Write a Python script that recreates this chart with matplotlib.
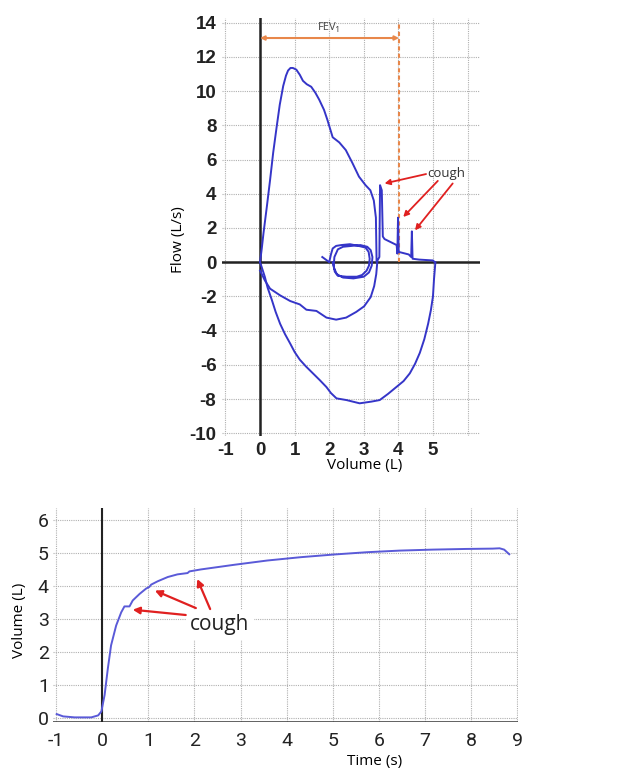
import matplotlib.pyplot as plt

plt.rcParams['axes.unicode_minus'] = False

# flow-volume loop (top): forced expiration with coughs
exp_vol = [0.0, 0.05, 0.1, 0.2, 0.29, 0.38, 0.48, 0.57, 0.67, 0.75, 0.81, 0.88, 0.95, 1.05,
           1.15, 1.24, 1.35, 1.48, 1.6, 1.71, 1.85, 1.95, 2.1, 2.29, 2.48, 2.67, 2.86, 3.05,
           3.19, 3.29, 3.35, 3.37, 3.45, 3.47, 3.52, 3.55, 3.6, 3.95, 3.97, 3.99, 4.01, 4.3,
           4.37, 4.39, 4.41, 4.6, 5.0, 5.05]
exp_flow = [0.0, 0.8, 1.7, 3.3, 4.8, 6.4, 7.9, 9.2, 10.3, 10.9, 11.2, 11.35, 11.35, 11.25,
            10.95, 10.6, 10.4, 10.25, 9.9, 9.5, 8.9, 8.3, 7.3, 7.0, 6.55, 5.8, 5.0, 4.5,
            4.2, 3.6, 2.6, 0.0, 0.3, 4.5, 4.2, 1.5, 1.35, 1.0, 0.5, 2.6, 0.6, 0.45,
            0.3, 1.8, 0.2, 0.15, 0.1, 0.0]

# forced inspiration (big lower loop)
insp_vol = [5.07, 5.03, 5.0, 4.94, 4.86, 4.75, 4.62, 4.48, 4.33, 4.15, 3.94, 3.7, 3.46, 3.22,
            2.88, 2.5, 2.21, 2.05, 1.92, 1.73, 1.53, 1.33, 1.15, 1.0, 0.87, 0.72, 0.58, 0.45,
            0.34, 0.22, 0.14, 0.05, 0.0]
insp_flow = [0.0, -1.0, -2.0, -2.8, -3.6, -4.5, -5.3, -5.95, -6.5, -6.95, -7.3, -7.7, -8.06,
             -8.15, -8.25, -8.06, -7.96, -7.65, -7.3, -6.9, -6.5, -6.1, -5.7, -5.25, -4.75,
             -4.2, -3.6, -2.9, -2.2, -1.5, -0.87, -0.3, 0.0]

# second (smaller) inspiration
insp2_vol = [0.0, 0.14, 0.29, 0.58, 0.87, 1.15, 1.34, 1.63, 1.92, 2.2, 2.49, 2.78, 3.01,
             3.2, 3.3, 3.36, 3.39]
insp2_flow = [-0.49, -1.07, -1.55, -1.94, -2.27, -2.47, -2.78, -2.85, -3.24, -3.36, -3.24,
              -2.91, -2.58, -2.04, -1.4, -0.7, 0.0]

# tidal breathing loops
tidal_vol = [1.8, 1.9, 2.0, 2.05, 2.1, 2.2, 2.35, 2.6, 2.85, 3.05, 3.14, 3.17, 3.15, 3.08,
             2.95, 2.8, 2.5, 2.25, 2.16, 2.13, 2.15, 2.25, 2.4, 2.65, 2.9, 3.1, 3.2, 3.25,
             3.23, 3.15, 3.0, 2.7, 2.4, 2.22, 2.14, 2.1]
tidal_flow = [0.3, 0.15, 0.0, 0.45, 0.8, 0.95, 1.0, 1.05, 0.95, 0.85, 0.6, 0.2, -0.2, -0.5,
              -0.75, -0.85, -0.85, -0.8, -0.55, -0.2, 0.3, 0.75, 0.9, 0.95, 1.0, 0.9, 0.7,
              0.3, -0.2, -0.6, -0.85, -0.95, -0.9, -0.7, -0.35, 0.0]

fev1 = 4.02

# volume-time curve (bottom)
time_s = [-0.99, -0.85, -0.6, -0.24, -0.09, -0.02, 0.05, 0.12, 0.19, 0.3, 0.41, 0.48, 0.59,
          0.66, 0.81, 0.95, 1.02, 1.06, 1.2, 1.42, 1.63, 1.85, 1.89, 2.14, 2.86, 3.58, 4.3,
          5.01, 5.73, 6.45, 7.17, 7.89, 8.47, 8.62, 8.72, 8.83]
volume_l = [0.12, 0.05, 0.02, 0.02, 0.08, 0.2, 0.7, 1.5, 2.2, 2.8, 3.2, 3.38, 3.38,
            3.56, 3.76, 3.92, 3.97, 4.04, 4.14, 4.27, 4.35, 4.39, 4.44, 4.5, 4.64, 4.77, 4.87,
            4.95, 5.02, 5.07, 5.1, 5.12, 5.13, 5.14, 5.1, 4.96]

W, H = 635, 771
fig = plt.figure(figsize=(W / 100, H / 100), dpi=100)
grid_kw = dict(color='#b0b0b0', linestyle=(0, (1, 1)), linewidth=0.8)
label_font = ['Open Sans', 'DejaVu Sans']

# ---- top: flow-volume ----
ax = fig.add_axes([222 / W, 1 - 436 / H, (480 - 222) / W, (436 - 18) / H])
ax.set_xlim(-1.1, 6.36)
ax.set_ylim(-10.16, 14.27)
ax.set_xticks(range(-1, 7))
ax.set_xticklabels([str(i) for i in range(-1, 6)] + [''])
ax.set_yticks(range(-10, 15, 2))
ax.grid(True, **grid_kw)
for s in ax.spines.values():
    s.set_visible(False)
ax.tick_params(length=0, labelsize=13.5, pad=4)
for t in ax.get_xticklabels() + ax.get_yticklabels():
    t.set_fontweight('bold')
    t.set_color('#222222')
    t.set_family(['Liberation Sans', 'DejaVu Sans'])
ax.axhline(0, color='#222222', lw=1.8, zorder=2)
ax.axvline(0, color='#222222', lw=1.8, zorder=2)

blue = '#3535c8'
ax.plot(exp_vol, exp_flow, color=blue, lw=1.4, zorder=3)
ax.plot(insp_vol, insp_flow, color=blue, lw=1.4, zorder=3)
ax.plot(insp2_vol, insp2_flow, color=blue, lw=1.4, zorder=3)
ax.plot(tidal_vol, tidal_flow, color=blue, lw=1.4, zorder=3)

orange = '#e8874a'
ax.plot([fev1, fev1], [0, 14], color=orange, lw=1.5, linestyle=(0, (2, 1.5)), zorder=2)
ax.annotate('', xy=(0, 13.1), xytext=(fev1, 13.1),
            arrowprops=dict(arrowstyle='<|-|>', color=orange, lw=1.5,
                            mutation_scale=6, shrinkA=0, shrinkB=0))
ax.text(fev1 / 2, 13.4, 'FEV₁', ha='center', va='bottom', fontsize=8,
        color='#444444', family=label_font)

red = '#e02020'
ax.text(5.38, 5.2, 'cough', ha='center', va='center', fontsize=9.5,
        color='#333333', family=label_font)
cough_top = [((4.8, 5.15), (3.6, 4.6)), ((5.14, 4.75), (4.14, 2.64)),
             ((5.57, 4.6), (4.48, 1.86))]
for start, end in cough_top:
    ax.annotate('', xy=end, xytext=start,
                arrowprops=dict(arrowstyle='-|>', color=red, lw=1.3,
                                mutation_scale=8, shrinkA=0, shrinkB=0))

fig.text(178 / W, 1 - 240 / H, 'Flow (L/s)', rotation=90, ha='center', va='center',
         fontsize=11, family=label_font)
fig.text(365 / W, 1 - 466 / H, 'Volume (L)', ha='center', va='center',
         fontsize=11, family=label_font)

# ---- bottom: volume-time ----
bx = fig.add_axes([53 / W, 1 - 722 / H, (518 - 53) / W, (722 - 508) / H])
bx.set_xlim(-1.07, 9.02)
bx.set_ylim(-0.12, 6.36)
bx.set_xticks(range(-1, 10))
bx.set_yticks(range(0, 7))
bx.grid(True, **grid_kw)
for s in bx.spines.values():
    s.set_visible(False)
bx.tick_params(length=0, labelsize=14, colors='#222222')
bx.tick_params(axis='x', pad=7)
bx.tick_params(axis='y', pad=3)
for t in bx.get_xticklabels() + bx.get_yticklabels():
    t.set_family(['Liberation Sans Narrow', 'Roboto', 'DejaVu Sans'])
bx.axhline(-0.12, color='#333333', lw=1.8, zorder=2)
bx.axvline(0, color='#222222', lw=1.5, zorder=2)
bx.plot(time_s, volume_l, color='#5a5ad8', lw=1.4, zorder=3)

bx.text(2.55, 2.82, 'cough', ha='center', va='center', fontsize=15, color='#222222',
        family=label_font, zorder=4,
        bbox=dict(facecolor='white', edgecolor='none', pad=3))
cough_bot = [((1.81, 3.12), (0.66, 3.28)), ((2.03, 3.33), (1.14, 3.86)),
             ((2.34, 3.3), (2.06, 4.21))]
for start, end in cough_bot:
    bx.annotate('', xy=end, xytext=start, zorder=5,
                arrowprops=dict(arrowstyle='-|>', color=red, lw=1.6,
                                mutation_scale=10, shrinkA=0, shrinkB=0))

fig.text(20 / W, 1 - 620 / H, 'Volume (L)', rotation=90, ha='center', va='center',
         fontsize=11, family=label_font)
fig.text(375 / W, 1 - 761 / H, 'Time (s)', ha='center', va='center',
         fontsize=11, family=label_font)

fig.savefig('out.png', dpi=100, facecolor='white')
